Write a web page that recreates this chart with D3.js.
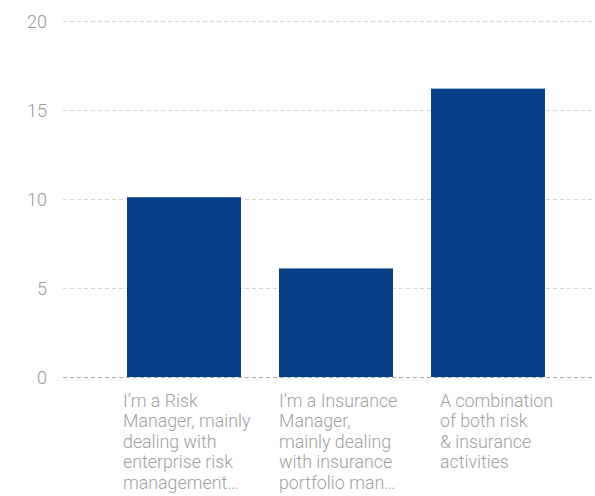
<!DOCTYPE html>
<html>
<head>
<meta charset="utf-8">
<script src="https://cdn.jsdelivr.net/npm/d3@7"></script>
<style>
  html, body { margin: 0; padding: 0; background: #fff; }
  svg { display: block; }
</style>
</head>
<body>
<svg id="chart" width="595" height="496"></svg>
<script>
const categories = [
  ["I\u2019m a Risk", "Manager, mainly", "dealing with", "enterprise risk", "management\u2026"],
  ["I\u2019m a Insurance", "Manager,", "mainly dealing", "with insurance", "portfolio man\u2026"],
  ["A combination", "of both risk", "& insurance", "activities"]
];
const values = [10.1, 6.1, 16.2];
const yTicks = [0, 5, 10, 15, 20];
const labelShift = [-4, 0, 9];

const W = 595, H = 496;
const svg = d3.select("#chart");
const font = "Roboto, 'Noto Sans', sans-serif";

const y = d3.scaleLinear().domain([0, 20]).range([377, 21]);
const x = d3.scaleBand().domain(d3.range(values.length)).range([89, 583]).paddingInner(0.25).paddingOuter(0.25);

// gridlines
const gridG = svg.append("g");
gridG.selectAll("line").data(yTicks).join("line")
  .attr("x1", 63).attr("x2", W)
  .attr("y1", d => Math.round(y(d)) + 0.5).attr("y2", d => Math.round(y(d)) + 0.5)
  .attr("stroke", d => d === 0 ? "#aaaaaa" : "#d6d6d6")
  .attr("stroke-width", 1)
  .attr("stroke-dasharray", "4,3");

// y axis labels
const yAxis = d3.axisLeft(y).tickValues(yTicks).tickSize(0).tickPadding(0);
const yg = svg.append("g").attr("transform", "translate(47,0)").call(yAxis);
yg.select(".domain").remove();
yg.selectAll("text")
  .attr("font-family", font).attr("font-weight", 300)
  .attr("font-size", 18).attr("fill", "#999999").attr("dy", "0.35em");

// bars
svg.append("g").selectAll("rect").data(values).join("rect")
  .attr("x", (d, i) => x(i))
  .attr("width", x.bandwidth())
  .attr("y", d => y(d))
  .attr("height", d => y(0) - y(d))
  .attr("fill", "#063f88");

// category labels
const lg = svg.append("g");
categories.forEach((lines, i) => {
  const t = lg.append("text")
    .attr("font-family", font).attr("font-weight", 300)
    .attr("font-size", 17.8).attr("fill", "#a0a0a0")
    .attr("transform", `translate(${x(i) + labelShift[i]},0)`);
  lines.forEach((ln, j) => {
    t.append("tspan").attr("x", 0).attr("y", 407 + j * 20.4).text(ln);
  });
});
</script>
</body>
</html>
